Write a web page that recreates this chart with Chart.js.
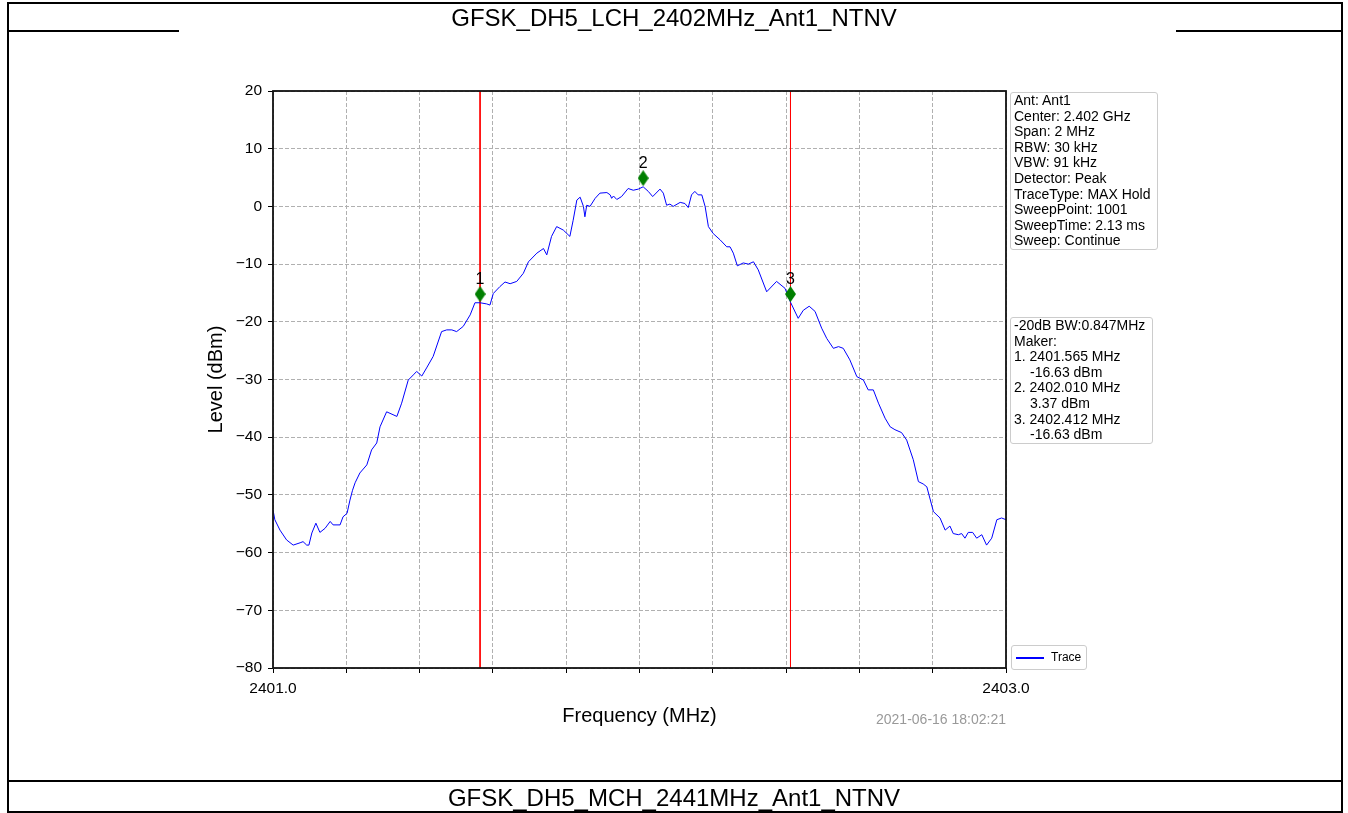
<!DOCTYPE html>
<html>
<head>
<meta charset="utf-8">
<script src="https://cdn.jsdelivr.net/npm/chart.js@4.4.1/dist/chart.umd.min.js"></script>
<style>
    body { margin: 0; background: #fff; font-family: "Liberation Sans", Arial, sans-serif; }
    #page { position: relative; width: 1348px; height: 813px; overflow: hidden; }
    #chart { position: absolute; left: 0; top: 0; }
    .frame { position: absolute; left: 7px; top: 2px; width: 1332px; height: 807px; border: 2px solid #000; }
    .hline { position: absolute; height: 2px; background: #000; }
    .row-title { position: absolute; left: 9px; width: 1330px; height: 28px; line-height: 29px; text-align: center; font-size: 24px; color: #000; }
    .info { position: absolute; left: 1010px; border: 1px solid #ccc; border-radius: 3px; background: #fff;
            font-size: 14px; line-height: 15.6px; padding: 0 3px; white-space: pre; color: #000; }
    .info .ind { padding-left: 16px; }
    #stamp { position: absolute; right: 342px; top: 711px; font-size: 14px; color: #999; }
    #legend { position: absolute; left: 1011px; top: 645px; width: 74px; height: 23px; border: 1px solid #ccc;
              border-radius: 3px; background: #fff; font-size: 12px; }
    #legend .swatch { position: absolute; left: 4px; top: 11px; width: 28px; height: 2px; background: blue; }
    #legend .lbl { position: absolute; left: 39px; top: 4px; }
</style>
</head>
<body>
<div id="page">
    <canvas id="chart" width="1348" height="813"></canvas>
    <div class="frame"></div>
    <div class="hline" style="left:7px; top:30px; width:172px;"></div>
    <div class="hline" style="left:1176px; top:30px; width:165px;"></div>
    <div class="hline" style="left:7px; top:780px; width:1334px;"></div>
    <div class="row-title" style="top:3px;">GFSK_DH5_LCH_2402MHz_Ant1_NTNV</div>
    <div class="row-title" style="top:783px;">GFSK_DH5_MCH_2441MHz_Ant1_NTNV</div>

    <div class="info" style="top:92px; width:140px;">Ant: Ant1
Center: 2.402 GHz
Span: 2 MHz
RBW: 30 kHz
VBW: 91 kHz
Detector: Peak
TraceType: MAX Hold
SweepPoint: 1001
SweepTime: 2.13 ms
Sweep: Continue</div>

    <div class="info" style="top:317px; width:135px;"><div>-20dB BW:0.847MHz</div><div>Maker:</div><div>1. 2401.565 MHz</div><div class="ind">-16.63 dBm</div><div>2. 2402.010 MHz</div><div class="ind">3.37 dBm</div><div>3. 2402.412 MHz</div><div class="ind">-16.63 dBm</div></div>

    <div id="stamp">2021-06-16 18:02:21</div>
    <div id="legend"><div class="swatch"></div><div class="lbl">Trace</div></div>
</div>

<script>
// Data
const traceFreq = [
    2401.000, 2401.005, 2401.019, 2401.037, 2401.055, 2401.074, 2401.082, 2401.092, 2401.098, 2401.106,
    2401.117, 2401.128, 2401.142, 2401.156, 2401.164, 2401.183, 2401.191, 2401.202, 2401.210, 2401.217,
    2401.224, 2401.237, 2401.256, 2401.269, 2401.283, 2401.292, 2401.310, 2401.338, 2401.351, 2401.369,
    2401.383, 2401.392, 2401.406, 2401.419, 2401.437, 2401.460, 2401.474, 2401.488, 2401.501, 2401.519,
    2401.538, 2401.551, 2401.565, 2401.583, 2401.592, 2401.601, 2401.619, 2401.633, 2401.647, 2401.665,
    2401.683, 2401.697, 2401.720, 2401.738, 2401.747, 2401.760, 2401.774, 2401.792, 2401.810, 2401.819,
    2401.829, 2401.838, 2401.847, 2401.851, 2401.856, 2401.865, 2401.879, 2401.892, 2401.911, 2401.920,
    2401.924, 2401.929, 2401.938, 2401.951, 2401.969, 2401.983, 2401.997, 2402.010, 2402.024, 2402.036,
    2402.056, 2402.065, 2402.074, 2402.083, 2402.092, 2402.111, 2402.124, 2402.133, 2402.142, 2402.151,
    2402.160, 2402.170, 2402.179, 2402.188, 2402.201, 2402.220, 2402.238, 2402.247, 2402.256, 2402.267,
    2402.283, 2402.297, 2402.311, 2402.324, 2402.347, 2402.374, 2402.397, 2402.412, 2402.433, 2402.447,
    2402.463, 2402.479, 2402.497, 2402.511, 2402.529, 2402.543, 2402.556, 2402.574, 2402.593, 2402.611,
    2402.624, 2402.638, 2402.652, 2402.670, 2402.684, 2402.697, 2402.715, 2402.729, 2402.747, 2402.761,
    2402.774, 2402.784, 2402.802, 2402.820, 2402.834, 2402.847, 2402.856, 2402.870, 2402.879, 2402.888,
    2402.897, 2402.909, 2402.920, 2402.934, 2402.947, 2402.961, 2402.975, 2402.988, 2403.000
];
const traceLevel = [
    -52.6, -54.3, -56.1, -57.8, -58.7, -58.3, -58.1, -58.7, -58.7, -56.6,
    -54.9, -56.5, -55.8, -54.6, -55.2, -55.2, -53.8, -53.2, -50.9, -49.2,
    -47.9, -46.2, -44.8, -42.2, -41.0, -38.2, -35.6, -36.4, -34.1, -30.1,
    -29.2, -28.6, -29.4, -28.0, -26.0, -21.7, -21.4, -21.4, -21.7, -20.8,
    -18.8, -16.7, -16.7, -16.9, -17.1, -15.1, -13.9, -13.1, -13.4, -13.0,
    -11.6, -9.6, -8.1, -7.3, -8.4, -5.2, -3.5, -4.1, -5.2, -2.4,
    1.1, 1.6, 0.0, -1.8, 0.2, 0.0, 1.4, 2.3, 2.4, 2.0,
    1.4, 1.8, 1.2, 1.7, 3.1, 2.8, 3.0, 3.4, 2.6, 1.7,
    3.0, 2.3, 0.2, 0.4, 0.0, 0.7, 0.5, -0.2, 2.0, 2.6,
    2.0, 2.0, 0.0, -3.5, -4.7, -5.8, -7.0, -7.0, -8.1, -10.3,
    -9.8, -10.0, -9.6, -11.0, -14.8, -13.0, -14.2, -16.6, -19.4, -18.0,
    -17.3, -18.2, -21.1, -22.9, -24.6, -24.3, -24.6, -26.6, -29.5, -30.1,
    -31.8, -31.8, -34.1, -36.7, -38.2, -38.7, -39.2, -40.5, -43.9, -47.7,
    -48.1, -48.6, -52.9, -54.0, -56.1, -55.4, -56.7, -56.9, -56.7, -57.5,
    -56.5, -56.5, -57.5, -56.9, -58.7, -57.5, -54.3, -54.0, -54.3
];
const markerNames = ['1', '2', '3'];
const markerFreq = [2401.565, 2402.010, 2402.412];
const markerLevel = [-15.2, 4.9, -15.2];
const freqMin = 2401.0, freqMax = 2403.0, freqStep = 0.2;
const levelMin = -80, levelMax = 20, levelStep = 10;

// Thin diamond marker
function makeDiamond(w, h, color) {
    const c = document.createElement('canvas');
    c.width = w; c.height = h;
    const g = c.getContext('2d');
    g.fillStyle = color;
    g.beginPath();
    g.moveTo(w / 2, 0); g.lineTo(w, h / 2); g.lineTo(w / 2, h); g.lineTo(0, h / 2);
    g.closePath(); g.fill();
    return c;
}
const diamond = makeDiamond(11, 16, '#007f00');

// Frame + marker numbers
const plotExtras = {
    id: 'plotExtras',
    afterDatasetsDraw(chart) {
        const { ctx, chartArea: a } = chart;
        ctx.save();
        ctx.strokeStyle = '#111';
        ctx.lineWidth = 1.8;
        ctx.strokeRect(a.left, a.top, a.right - a.left, a.bottom - a.top);

        ctx.fillStyle = '#000';
        ctx.font = '16px "Liberation Sans", Arial, sans-serif';
        ctx.textAlign = 'center';
        ctx.textBaseline = 'bottom';
        chart.getDatasetMeta(0).data.forEach((pt, i) => {
            ctx.fillText(markerNames[i], pt.x, pt.y - 7);
        });
        ctx.restore();
    }
};

const tickFont = { family: '"Liberation Sans", Arial, sans-serif', size: 15.5 };
const titleFont = { family: '"Liberation Sans", Arial, sans-serif', size: 20 };

new Chart(document.getElementById('chart').getContext('2d'), {
    type: 'line',
    data: {
        datasets: [
            {
                label: 'Markers',
                data: markerFreq.map((f, i) => ({ x: f, y: markerLevel[i] })),
                showLine: false,
                pointStyle: diamond,
                pointRadius: 8,
                order: 0
            },
            {
                label: 'Trace',
                data: traceFreq.map((f, i) => ({ x: f, y: traceLevel[i] })),
                borderColor: 'blue',
                borderWidth: 1,
                pointRadius: 0,
                tension: 0,
                order: 1
            },
            {
                label: 'M1',
                data: [{ x: markerFreq[0], y: levelMax }, { x: markerFreq[0], y: levelMin }],
                borderColor: 'red',
                borderWidth: 1,
                pointRadius: 0,
                order: 2
            },
            {
                label: 'M3',
                data: [{ x: markerFreq[2], y: levelMax }, { x: markerFreq[2], y: levelMin }],
                borderColor: 'red',
                borderWidth: 1,
                pointRadius: 0,
                order: 2
            }
        ]
    },
    options: {
        responsive: false,
        animation: false,
        devicePixelRatio: 1,
        layout: { padding: { left: 204, right: 342, top: 91, bottom: 85 } },
        plugins: {
            legend: { display: false },
            tooltip: { enabled: false }
        },
        scales: {
            x: {
                type: 'linear',
                min: freqMin,
                max: freqMax,
                afterFit: (s) => { s.height = 60; },
                ticks: {
                    stepSize: freqStep,
                    autoSkip: false,
                    maxRotation: 0,
                    padding: 6,
                    color: '#000',
                    font: tickFont,
                    callback: (v, i, t) => (i === 0 || i === t.length - 1) ? Number(v).toFixed(1) : ''
                },
                grid: { color: '#b0b0b0', tickColor: '#000', tickLength: 5, lineWidth: 1 },
                border: { display: false, dash: [4, 2] },
                title: { display: true, text: 'Frequency (MHz)', color: '#000', font: titleFont, padding: 0 }
            },
            y: {
                min: levelMin,
                max: levelMax,
                afterFit: (s) => { s.width = 69; },
                ticks: {
                    stepSize: levelStep,
                    padding: 6,
                    color: '#000',
                    font: tickFont,
                    callback: (v) => String(v).replace('-', '\u2212')
                },
                grid: { color: '#b0b0b0', tickColor: '#000', tickLength: 5, lineWidth: 1 },
                border: { display: false, dash: [4, 2] },
                title: { display: true, text: 'Level (dBm)', color: '#000', font: titleFont, padding: 0 }
            }
        }
    },
    plugins: [plotExtras]
});
</script>
</body>
</html>
